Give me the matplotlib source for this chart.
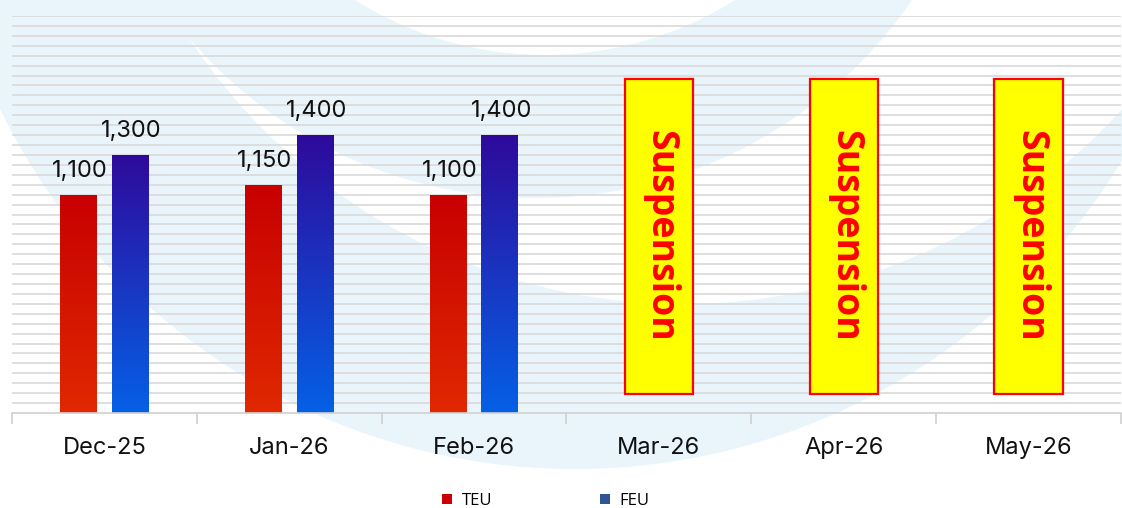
import numpy as np
import matplotlib
matplotlib.use('Agg')
import matplotlib.pyplot as plt
from matplotlib.patches import Circle, Rectangle, Patch
from matplotlib.colors import LinearSegmentedColormap

# Monthly volumes
months = ['Dec-25', 'Jan-26', 'Feb-26', 'Mar-26', 'Apr-26', 'May-26']
active_months = ['Dec-25', 'Jan-26', 'Feb-26']
teu_values = [1100, 1150, 1100]
feu_values = [1300, 1400, 1400]
suspended_months = ['Mar-26', 'Apr-26', 'May-26']
suspension_label = 'Suspension'

W, H = 1122, 508
fig = plt.figure(figsize=(W / 100, H / 100), dpi=100)
fig.patch.set_facecolor('white')

# Faint logo watermark behind the chart (pixel coordinates, y pointing down)
bg = fig.add_axes([0, 0, 1, 1], zorder=0)
bg.set_xlim(0, W)
bg.set_ylim(H, 0)
bg.axis('off')
pale = '#e9f4fb'
bg.add_patch(Circle((575, -170), 639, color=pale, lw=0))
bg.add_patch(Circle((683, -288), 592, color='white', lw=0))
bg.add_patch(Circle((536, -258), 456, color=pale, lw=0))
bg.add_patch(Circle((545, -301), 356, color='white', lw=0))

ax = fig.add_axes([12 / W, (H - 413) / H, 1109 / W, 397 / H], zorder=1)
ax.set_facecolor('none')

x = np.arange(len(months))
xa = np.array([months.index(m) for m in active_months])
width = 0.2
offset = 0.14

teu_bars = ax.bar(xa - offset, teu_values, width, color='#d41400', zorder=2)
feu_bars = ax.bar(xa + offset, feu_values, width, color='#1a35c0', zorder=2)


def shade(bars, top, bottom):
    cmap = LinearSegmentedColormap.from_list('shade', [bottom, top])
    grad = np.linspace(0, 1, 256).reshape(-1, 1)
    for b in bars:
        x0, w, h = b.get_x(), b.get_width(), b.get_height()
        im = ax.imshow(grad, extent=(x0, x0 + w, 0, h), origin='lower',
                       aspect='auto', cmap=cmap, zorder=2.5)
        im.set_clip_path(b)


shade(teu_bars, '#c80000', '#e02800')
shade(feu_bars, '#2e0a9c', '#0560e6')

label_font = 'Inter'

# value labels
for bars, vals in [(teu_bars, teu_values), (feu_bars, feu_values)]:
    for b, v in zip(bars, vals):
        ax.annotate(f'{v:,}', (b.get_x() + b.get_width() / 2, v),
                    xytext=(1, 13), textcoords='offset points',
                    ha='center', va='baseline', fontsize=17,
                    family=label_font, color='#111111', zorder=4)

# suspended months
box_bottom, box_top, box_width = 95, 1685, 0.37
for m in suspended_months:
    i = months.index(m)
    ax.add_patch(Rectangle((i - box_width / 2, box_bottom), box_width,
                           box_top - box_bottom, facecolor='#ffff00',
                           edgecolor='#ff0000', lw=1.6, zorder=3))
    ax.text(i + 0.01, (box_bottom + box_top) / 2, suspension_label,
            rotation=-90, ha='center', va='center', fontsize=27,
            fontweight='bold', family='Open Sans', color='#ff0000', zorder=4)

ax.set_xlim(-0.5, len(months) - 0.5)
ax.set_ylim(0, 2000)
ax.set_yticks(np.arange(50, 2001, 50))
ax.yaxis.grid(True, color='#d9d9d9', lw=1.2)
ax.set_axisbelow(True)
ax.tick_params(axis='y', left=False, labelleft=False)

ax.set_xticks(x)
ax.set_xticklabels(months, fontsize=17, family=label_font, color='#111111')
ax.set_xticks(np.arange(-0.5, len(months)), minor=True)
ax.tick_params(axis='x', which='major', length=0, pad=17)
ax.tick_params(axis='x', which='minor', length=8, width=1.2, color='#d0d0d0')

for s in ['top', 'left', 'right']:
    ax.spines[s].set_visible(False)
ax.spines['bottom'].set_color('#d0d0d0')
ax.spines['bottom'].set_linewidth(1.2)

handles = [Patch(facecolor='#cc0000', label='TEU'),
           Patch(facecolor='#2f5597', label='FEU')]
fig.legend(handles=handles, loc='center', bbox_to_anchor=(546 / W, 1 - 501 / H),
           ncol=2, frameon=False, prop={'family': 'Open Sans', 'size': 12},
           handlelength=0.6, handleheight=0.6, handletextpad=0.55,
           columnspacing=6.5)

fig.savefig('out.png', dpi=100)
